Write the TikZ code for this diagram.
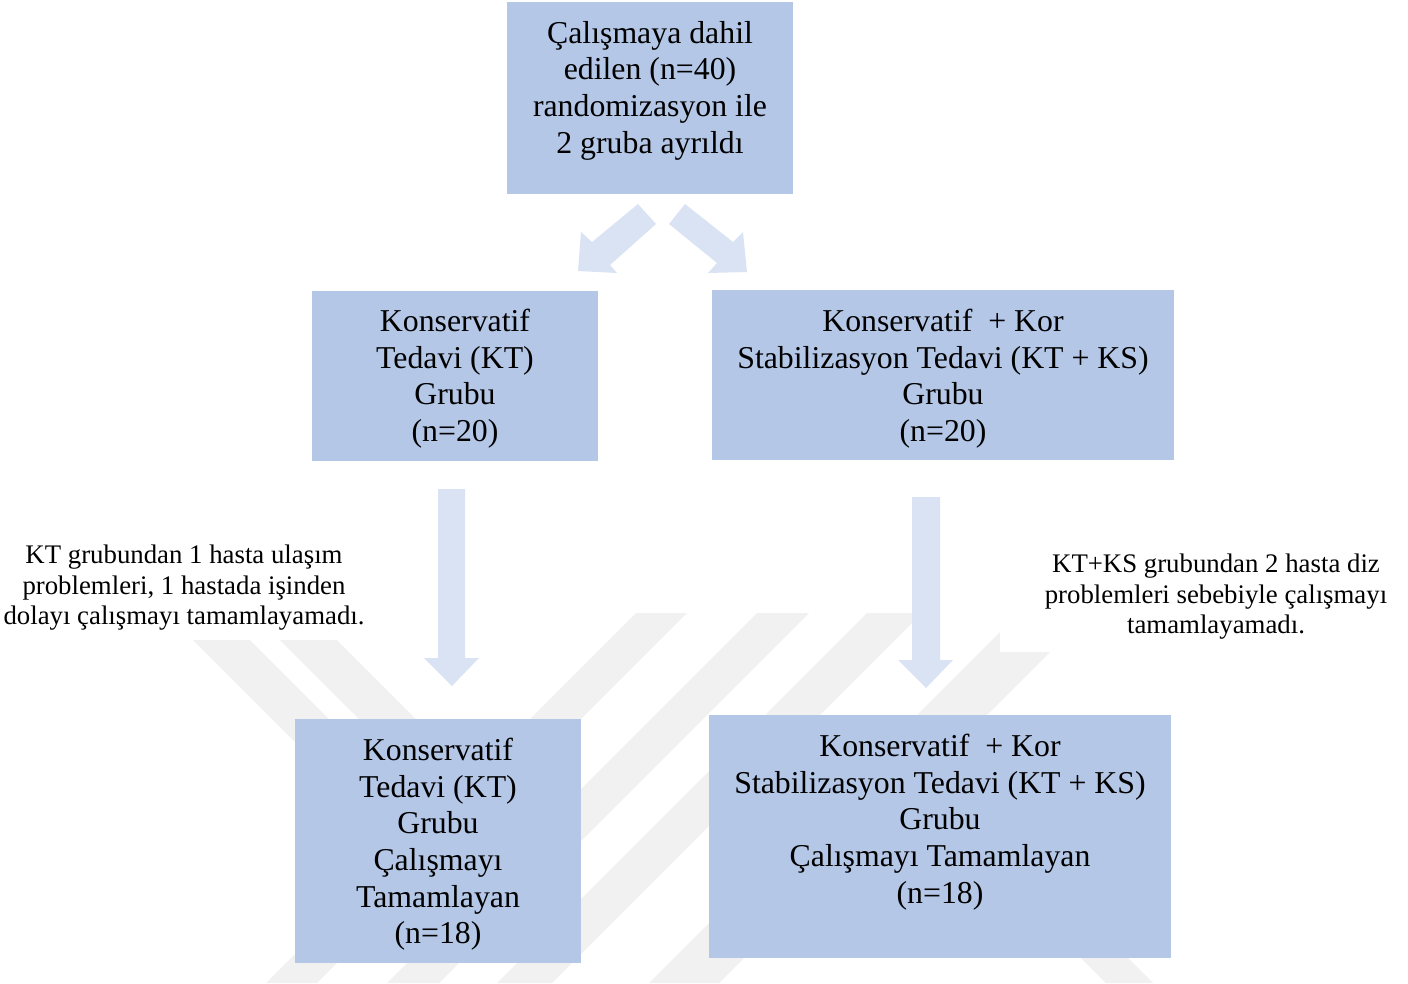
\documentclass[tikz,border=0pt]{standalone}
\usepackage{fontspec}
\setmainfont{Liberation Serif}
\definecolor{boxblue}{HTML}{B4C7E7}
\definecolor{arrowblue}{HTML}{DAE3F3}
\definecolor{wmgray}{HTML}{F1F1F1}
\begin{document}
\begin{tikzpicture}[x=1pt,y=-1pt,
  box/.style={rectangle, fill=boxblue, draw=none, inner sep=0pt},
  boxtext/.style={align=center, inner sep=0pt, anchor=north, font=\fontsize{31.8}{36.6}\selectfont},
  notetext/.style={align=center, inner sep=0pt, anchor=north, font=\fontsize{26.8}{30.8}\selectfont},
  blockarrow/.style={fill=arrowblue, draw=none},
  wmband/.style={fill=wmgray, draw=none}]
\useasboundingbox (0,0) rectangle (1408,983);
% faint watermark
\begin{scope}
  \clip (0,613) rectangle (1408,983);
  \fill[wmband] (636,613) -- (687,613) -- (317,983) -- (266,983) -- cycle;
  \fill[wmband] (757,613) -- (809,613) -- (439,983) -- (387,983) -- cycle;
  \fill[wmband] (867,613) -- (922,613) -- (552,983) -- (497,983) -- cycle;
  \fill[wmband] (1019,613) -- (1089,613) -- (719,983) -- (649,983) -- cycle;
\end{scope}
\fill[wmband] (280,640) -- (337,640) -- (497,800) -- (440,800) -- cycle;
\fill[wmband] (193,640) -- (250,640) -- (410,800) -- (353,800) -- cycle;
\fill[wmband] (1053,930) -- (1100,930) -- (1153,983) -- (1106,983) -- cycle;
\fill[white] (1000,540) rectangle (1408,652);
% boxes
\node[box, minimum width=286pt, minimum height=192pt] (top) at (650,98) {};
\node[box, minimum width=286pt, minimum height=170pt] (midL) at (455,376) {};
\node[box, minimum width=462pt, minimum height=170pt] (midR) at (943,375) {};
\node[box, minimum width=286pt, minimum height=244pt] (botL) at (438,841) {};
\node[box, minimum width=462pt, minimum height=243pt] (botR) at (940,836.5) {};
% box texts
\node[boxtext] (ttop) at (650,21) {Çalışmaya dahil\\edilen (n=40)\\randomizasyon ile\\2 gruba ayrıldı};
\node[boxtext] (tmidL) at (455,309) {Konservatif\\Tedavi (KT)\\Grubu\\(n=20)};
\node[boxtext] (tmidR) at (943,309) {Konservatif\ \ + Kor\\Stabilizasyon Tedavi (KT + KS)\\Grubu\\(n=20)};
\node[boxtext] (tbotL) at (438,738) {Konservatif\\Tedavi (KT)\\Grubu\\Çalışmayı\\Tamamlayan\\(n=18)};
\node[boxtext] (tbotR) at (940,734) {Konservatif\ \ + Kor\\Stabilizasyon Tedavi (KT + KS)\\Grubu\\Çalışmayı Tamamlayan\\(n=18)};
% notes
\node[notetext] (noteL) at (184,544.5) {KT grubundan 1 hasta ulaşım\\problemleri, 1 hastada işinden\\dolayı çalışmayı tamamlayamadı.};
\node[notetext] (noteR) at (1216,553.5) {KT+KS grubundan 2 hasta diz\\problemleri sebebiyle çalışmayı\\tamamlayamadı.};
% block arrows
\fill[blockarrow] (578,271) -- (581,232) -- (592,242) -- (638,204) -- (656,224) -- (610,265) -- (617,273) -- cycle;
\fill[blockarrow] (747,272) -- (743,232) -- (733,242) -- (685,204) -- (669,224) -- (717,263) -- (708,273) -- cycle;
\fill[blockarrow] (438,489) -- (465,489) -- (465,658) -- (479,658) -- (452,686) -- (424,658) -- (438,658) -- cycle;
\fill[blockarrow] (912,497) -- (940,497) -- (940,660) -- (953,660) -- (926,688) -- (898,660) -- (912,660) -- cycle;
\end{tikzpicture}
\end{document}
